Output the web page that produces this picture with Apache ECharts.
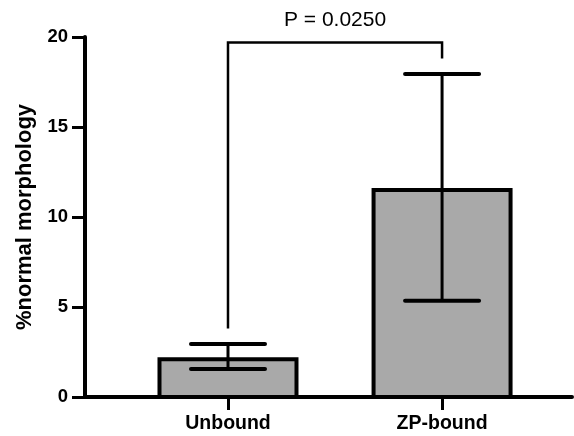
<!DOCTYPE html>
<html><head><meta charset="utf-8">
<script src="https://cdn.jsdelivr.net/npm/echarts@6/dist/echarts.min.js"></script>
<style>html,body{margin:0;padding:0;background:#fff}#c{width:574px;height:436px}</style>
</head><body><div id="c"></div>
<script>
const categories = ['Unbound', 'ZP-bound'];
const barValues = [2.1, 11.5];
const errLow = [1.55, 5.35];
const errHigh = [2.94, 17.94];
const yTicks = [0, 5, 10, 15, 20];
const bracket = { from: 1, to: 2, leftFoot: 3.8, top: 19.7, rightFoot: 18.8, label: 'P = 0.0250' };

const FONT = 'Liberation Sans, Arial, sans-serif';
const positions = categories.map((c, i) => i + 1);
const barData = positions.map((p, i) => [p, barValues[i], errLow[i], errHigh[i]]);

const chart = echarts.init(document.getElementById('c'), null, { renderer: 'canvas' });
chart.setOption({
  animation: false,
  grid: { left: 85, right: 2, top: 37, bottom: 39 },
  xAxis: {
    type: 'value', min: 0.332, max: 2.607,
    splitLine: { show: false },
    axisLine: { show: true, onZero: false, lineStyle: { color: '#000', width: 4 } },
    axisTick: { show: true, customValues: positions, length: 13, lineStyle: { color: '#000', width: 3 } },
    axisLabel: {
      show: true, customValues: positions, margin: 17,
      formatter: v => categories[Math.round(v) - 1] || '',
      color: '#000', fontFamily: FONT, fontWeight: 'bold', fontSize: 19.5
    }
  },
  yAxis: {
    type: 'value', min: 0, max: 20, interval: 5,
    name: '%normal morphology', nameLocation: 'middle', nameGap: 49, nameRotate: 90,
    nameTextStyle: { color: '#000', fontFamily: FONT, fontWeight: 'bold', fontSize: 22 },
    splitLine: { show: false },
    axisLine: { show: true, lineStyle: { color: '#000', width: 4 } },
    axisTick: { show: true, length: 13, lineStyle: { color: '#000', width: 3 } },
    axisLabel: {
      margin: 17, color: '#000', fontFamily: FONT, fontWeight: 'bold', fontSize: 18.5,
      formatter: v => yTicks.includes(v) ? String(v) : ''
    }
  },
  series: [
    {
      type: 'custom',
      data: barData,
      clip: false,
      z: 1,
      renderItem: function (params, api) {
        const x = api.value(0);
        const top = api.coord([x, api.value(1)]);
        const base = api.coord([x, 0]);
        const lo = api.coord([x, api.value(2)]);
        const hi = api.coord([x, api.value(3)]);
        const bw = 137, cw = 74;
        return {
          type: 'group',
          children: [
            { type: 'rect', shape: { x: top[0] - bw / 2, y: top[1], width: bw, height: base[1] - top[1] },
              style: { fill: '#a9a9a9', stroke: '#000', lineWidth: 4 } },
            { type: 'line', shape: { x1: lo[0], y1: lo[1], x2: hi[0], y2: hi[1] },
              style: { stroke: '#000', lineWidth: 3 } },
            { type: 'line', shape: { x1: hi[0] - cw / 2, y1: hi[1], x2: hi[0] + cw / 2, y2: hi[1] },
              style: { stroke: '#000', lineWidth: 4, lineCap: 'round' } },
            { type: 'line', shape: { x1: lo[0] - cw / 2, y1: lo[1], x2: lo[0] + cw / 2, y2: lo[1] },
              style: { stroke: '#000', lineWidth: 4, lineCap: 'round' } }
          ]
        };
      }
    },
    {
      type: 'custom',
      data: [[bracket.from, bracket.to, bracket.leftFoot, bracket.top, bracket.rightFoot]],
      clip: false,
      z: 3,
      renderItem: function (params, api) {
        const a = api.coord([api.value(0), api.value(2)]);
        const b = api.coord([api.value(0), api.value(3)]);
        const c = api.coord([api.value(1), api.value(3)]);
        const d = api.coord([api.value(1), api.value(4)]);
        return {
          type: 'group',
          children: [
            { type: 'polyline', shape: { points: [a, b, c, d] },
              style: { stroke: '#000', lineWidth: 2.5, fill: null } },
            { type: 'text', x: (b[0] + c[0]) / 2, y: b[1] - 22,
              style: { text: bracket.label, fill: '#000', font: '21px ' + FONT, align: 'center', verticalAlign: 'middle' } }
          ]
        };
      }
    }
  ]
});
</script></body></html>
